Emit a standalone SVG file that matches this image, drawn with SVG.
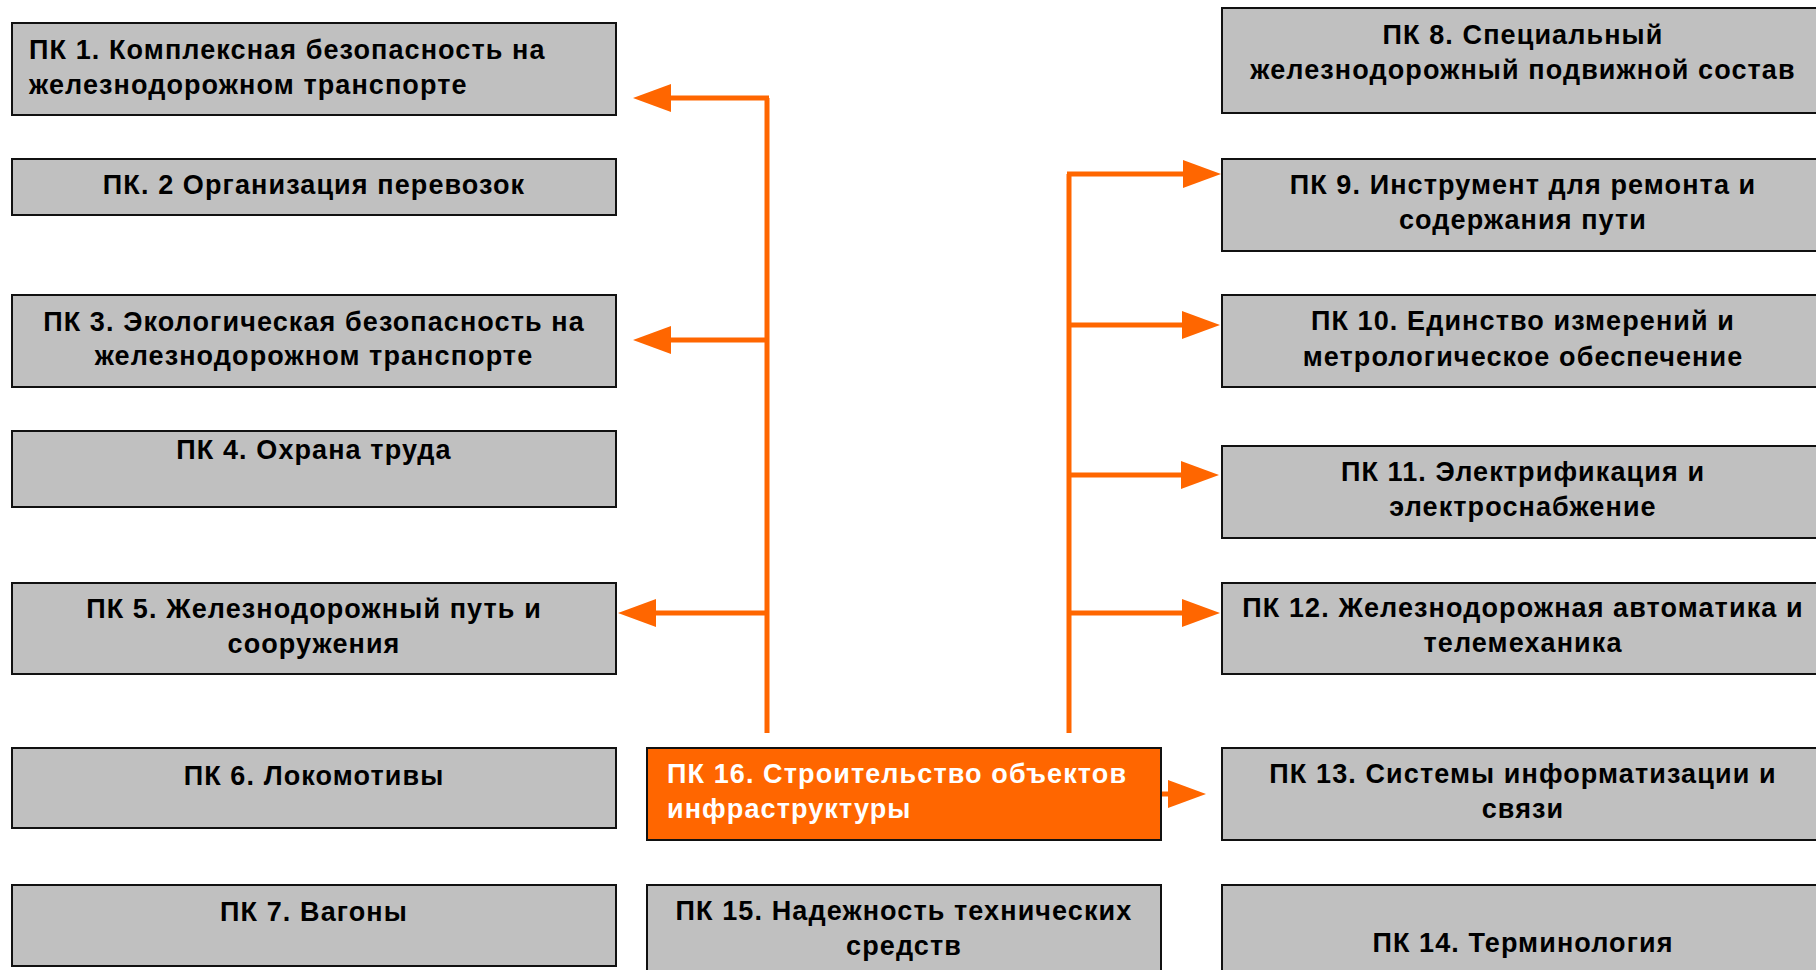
<svg xmlns="http://www.w3.org/2000/svg" width="1816" height="970" viewBox="0 0 1816 970">
<defs>
<style>
.box{fill:#C0C0C0;stroke:#111;stroke-width:2}
.hl{fill:#FF6600;stroke:#111;stroke-width:2}
.t{font-family:"Liberation Sans",Arial,sans-serif;font-weight:bold;font-size:27px;letter-spacing:1.1px;fill:#000}
.c{text-anchor:middle}
.w{fill:#fff}
.conn{stroke:#FF6600;stroke-width:5;fill:none}
</style>
<marker id="ah" markerUnits="userSpaceOnUse" markerWidth="40" markerHeight="30" refX="0" refY="14" orient="auto" viewBox="0 0 40 30">
<path d="M0,0 L38,14 L0,28 z" fill="#FF6600"/>
</marker>
</defs>
<rect width="1816" height="970" fill="#fff"/>

<g id="connectors">
<path class="conn" d="M767,733 V98"/>
<path class="conn" d="M769,98 H671" marker-end="url(#ah)"/>
<path class="conn" d="M767,340 H671" marker-end="url(#ah)"/>
<path class="conn" d="M767,613 H656" marker-end="url(#ah)"/>
<path class="conn" d="M1069,733 V174"/>
<path class="conn" d="M1067,174 H1183" marker-end="url(#ah)"/>
<path class="conn" d="M1069,325 H1182" marker-end="url(#ah)"/>
<path class="conn" d="M1069,475 H1181" marker-end="url(#ah)"/>
<path class="conn" d="M1069,613 H1182" marker-end="url(#ah)"/>
<path class="conn" d="M1161,794 H1168" marker-end="url(#ah)"/>
</g>

<g id="pk1"><rect class="box" x="12" y="23" width="604" height="92"/>
<text class="t" x="29" y="59">ПК 1. Комплексная безопасность на</text>
<text class="t" x="29" y="94">железнодорожном транспорте</text></g>

<g id="pk2"><rect class="box" x="12" y="159" width="604" height="56"/>
<text class="t c" x="314" y="194">ПК. 2 Организация перевозок</text></g>

<g id="pk3"><rect class="box" x="12" y="295" width="604" height="92"/>
<text class="t c" x="314" y="331">ПК 3. Экологическая безопасность на</text>
<text class="t c" x="314" y="365">железнодорожном транспорте</text></g>

<g id="pk4"><rect class="box" x="12" y="431" width="604" height="76"/>
<text class="t c" x="314" y="459">ПК 4. Охрана труда</text></g>

<g id="pk5"><rect class="box" x="12" y="583" width="604" height="91"/>
<text class="t c" x="314" y="618">ПК 5. Железнодорожный путь и</text>
<text class="t c" x="314" y="653">сооружения</text></g>

<g id="pk6"><rect class="box" x="12" y="748" width="604" height="80"/>
<text class="t c" x="314" y="785">ПК 6. Локомотивы</text></g>

<g id="pk7"><rect class="box" x="12" y="885" width="604" height="81"/>
<text class="t c" x="314" y="921">ПК 7. Вагоны</text></g>

<g id="pk8"><rect class="box" x="1222" y="8" width="620" height="105"/>
<text class="t c" x="1523" y="44">ПК 8. Специальный</text>
<text class="t c" x="1523" y="79">железнодорожный подвижной состав</text></g>

<g id="pk9"><rect class="box" x="1222" y="159" width="620" height="92"/>
<text class="t c" x="1523" y="194">ПК 9. Инструмент для ремонта и</text>
<text class="t c" x="1523" y="229">содержания пути</text></g>

<g id="pk10"><rect class="box" x="1222" y="295" width="620" height="92"/>
<text class="t c" x="1523" y="330">ПК 10. Единство измерений и</text>
<text class="t c" x="1523" y="366">метрологическое обеспечение</text></g>

<g id="pk11"><rect class="box" x="1222" y="446" width="620" height="92"/>
<text class="t c" x="1523" y="481">ПК 11. Электрификация и</text>
<text class="t c" x="1523" y="516">электроснабжение</text></g>

<g id="pk12"><rect class="box" x="1222" y="583" width="620" height="91"/>
<text class="t c" x="1523" y="617">ПК 12. Железнодорожная автоматика и</text>
<text class="t c" x="1523" y="652">телемеханика</text></g>

<g id="pk13"><rect class="box" x="1222" y="748" width="620" height="92"/>
<text class="t c" x="1523" y="783">ПК 13. Системы информатизации и</text>
<text class="t c" x="1523" y="818">связи</text></g>

<g id="pk14"><rect class="box" x="1222" y="885" width="620" height="100"/>
<text class="t c" x="1523" y="952">ПК 14. Терминология</text></g>

<g id="pk15"><rect class="box" x="647" y="885" width="514" height="100"/>
<text class="t c" x="904" y="920">ПК 15. Надежность технических</text>
<text class="t c" x="904" y="955">средств</text></g>

<g id="pk16"><rect class="hl" x="647" y="748" width="514" height="92"/>
<text class="t w" x="667" y="783">ПК 16. Строительство объектов</text>
<text class="t w" x="667" y="818">инфраструктуры</text></g>
</svg>
